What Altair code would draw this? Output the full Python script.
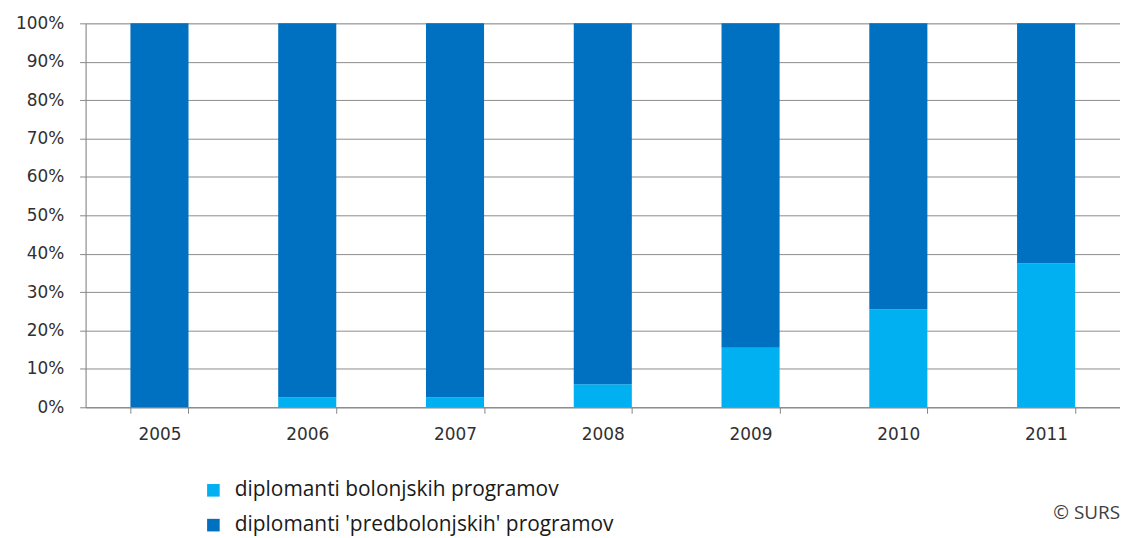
import altair as alt
import pandas as pd

years = ["2005", "2006", "2007", "2008", "2009", "2010", "2011"]
bolonjski = [0.0, 2.6, 2.6, 6.0, 15.5, 25.5, 37.5]
predbolonjski = [100.0, 97.4, 97.4, 94.0, 84.5, 74.5, 62.5]
series = ["diplomanti bolonjskih programov", "diplomanti 'predbolonjskih' programov"]
colors = ["#00B0F0", "#0070C0"]

rows = []
for y, b, p in zip(years, bolonjski, predbolonjski):
    rows.append({"leto": y, "skupina": series[0], "delez": b / 100, "red": 0})
    rows.append({"leto": y, "skupina": series[1], "delez": p / 100, "red": 1})
df = pd.DataFrame(rows)

W, H = 1040, 386

bars = alt.Chart(df).mark_bar().encode(
    x=alt.X("leto:N", sort=years, title=None,
            scale=alt.Scale(paddingInner=0.607, paddingOuter=0.3035),
            axis=alt.Axis(labelAngle=0, tickBand="extent", grid=False,
                          domainColor="#868686", tickColor="#868686", tickSize=6,
                          labelFont="DejaVu Sans", labelFontSize=17, labelColor="#303030",
                          labelPadding=13)),
    y=alt.Y("delez:Q", stack="zero", title=None,
            scale=alt.Scale(domain=[0, 1], nice=False),
            axis=alt.Axis(format=".0%", values=[i / 10 for i in range(11)],
                          domain=True, domainColor="#868686", tickColor="#868686", tickSize=6,
                          gridColor="#8c8c8c", gridWidth=1,
                          labelFont="DejaVu Sans", labelFontSize=17, labelColor="#303030",
                          labelPadding=16)),
    color=alt.Color("skupina:N", sort=series,
                    scale=alt.Scale(domain=series, range=colors),
                    legend=alt.Legend(title=None, orient="none", legendX=118, legendY=459,
                                      symbolType="square", symbolSize=160, symbolStrokeWidth=0,
                                      labelFont="Open Sans", labelFontSize=21, labelColor="#1a1a1a",
                                      labelLimit=600, rowPadding=13, labelOffset=11)),
    order=alt.Order("red:Q"),
)

credit = alt.Chart(pd.DataFrame({"t": ["© SURS"]})).mark_text(
    align="right", baseline="middle", font="Open Sans", fontSize=19, color="#404040"
).encode(text="t:N", x=alt.value(1040), y=alt.value(492))

chart = alt.layer(bars, credit).properties(
    width=W, height=H,
    autosize=alt.AutoSizeParams(type="none"),
    padding={"left": 78, "top": 14, "right": 0, "bottom": 128},
).configure_view(stroke=None).configure(background="white")

chart.save("out.html", embed_options={"renderer": "svg", "actions": False})
